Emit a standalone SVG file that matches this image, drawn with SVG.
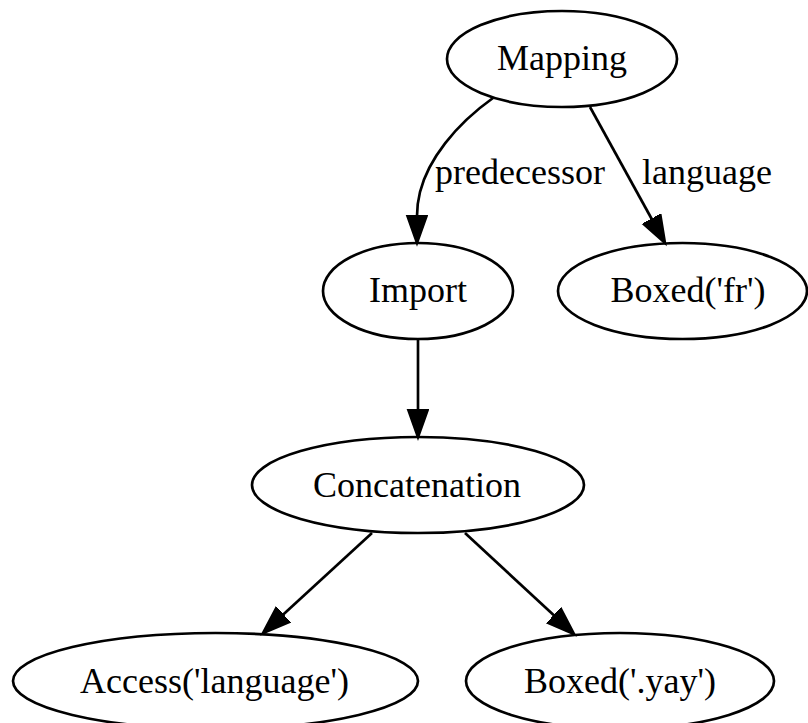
<svg xmlns="http://www.w3.org/2000/svg" width="808" height="723" viewBox="0 0 808 723">
  <defs>
    <marker id="arrow" markerUnits="userSpaceOnUse" markerWidth="34" markerHeight="26" refX="1" refY="11" orient="auto">
      <path d="M1,1.5 L27.7,11 L1,20.5 Z" fill="#000" stroke="#000" stroke-width="2.67"/>
    </marker>
    <style>
      .node ellipse { fill: none; stroke: #000; stroke-width: 2.67; }
      text { font-family: "Liberation Serif", "Times New Roman", serif; font-size: 36px; fill: #000; }
      .node text { text-anchor: middle; }
      .edge path { fill: none; stroke: #000; stroke-width: 2.67; marker-end: url(#arrow); }
      .edge text { text-anchor: middle; }
    </style>
  </defs>
  <rect width="808" height="723" fill="#fff"/>

  <g id="edges">
    <g class="edge" id="e-mapping-import">
      <path d="M493,98 C455,125 428,160 420,192 C418,200 417,209 417,216"/>
      <text x="520" y="184">predecessor</text>
    </g>
    <g class="edge" id="e-mapping-boxedfr">
      <path d="M590,107 L652,219.5"/>
      <text x="707" y="184">language</text>
    </g>
    <g class="edge" id="e-import-concat">
      <path d="M418,339 L418,410.3"/>
    </g>
    <g class="edge" id="e-concat-access">
      <path d="M372,533 L282.7,615"/>
    </g>
    <g class="edge" id="e-concat-boxedyay">
      <path d="M465,533 L554.4,615.8"/>
    </g>
  </g>

  <g class="node" id="mapping">
    <ellipse cx="562" cy="59" rx="115" ry="48"/>
    <text x="562" y="70">Mapping</text>
  </g>
  <g class="node" id="import">
    <ellipse cx="418" cy="291" rx="95" ry="48"/>
    <text x="418" y="302">Import</text>
  </g>
  <g class="node" id="boxed-fr">
    <ellipse cx="682.5" cy="291" rx="124.5" ry="48"/>
    <text x="688" y="302">Boxed('fr')</text>
  </g>
  <g class="node" id="concatenation">
    <ellipse cx="418" cy="485" rx="166" ry="48"/>
    <text x="417" y="496.5">Concatenation</text>
  </g>
  <g class="node" id="access-language">
    <ellipse cx="215.5" cy="681" rx="202.5" ry="48"/>
    <text x="214.5" y="692.5">Access('language')</text>
  </g>
  <g class="node" id="boxed-yay">
    <ellipse cx="620" cy="681" rx="154" ry="48"/>
    <text x="620" y="692.5">Boxed('.yay')</text>
  </g>
</svg>
